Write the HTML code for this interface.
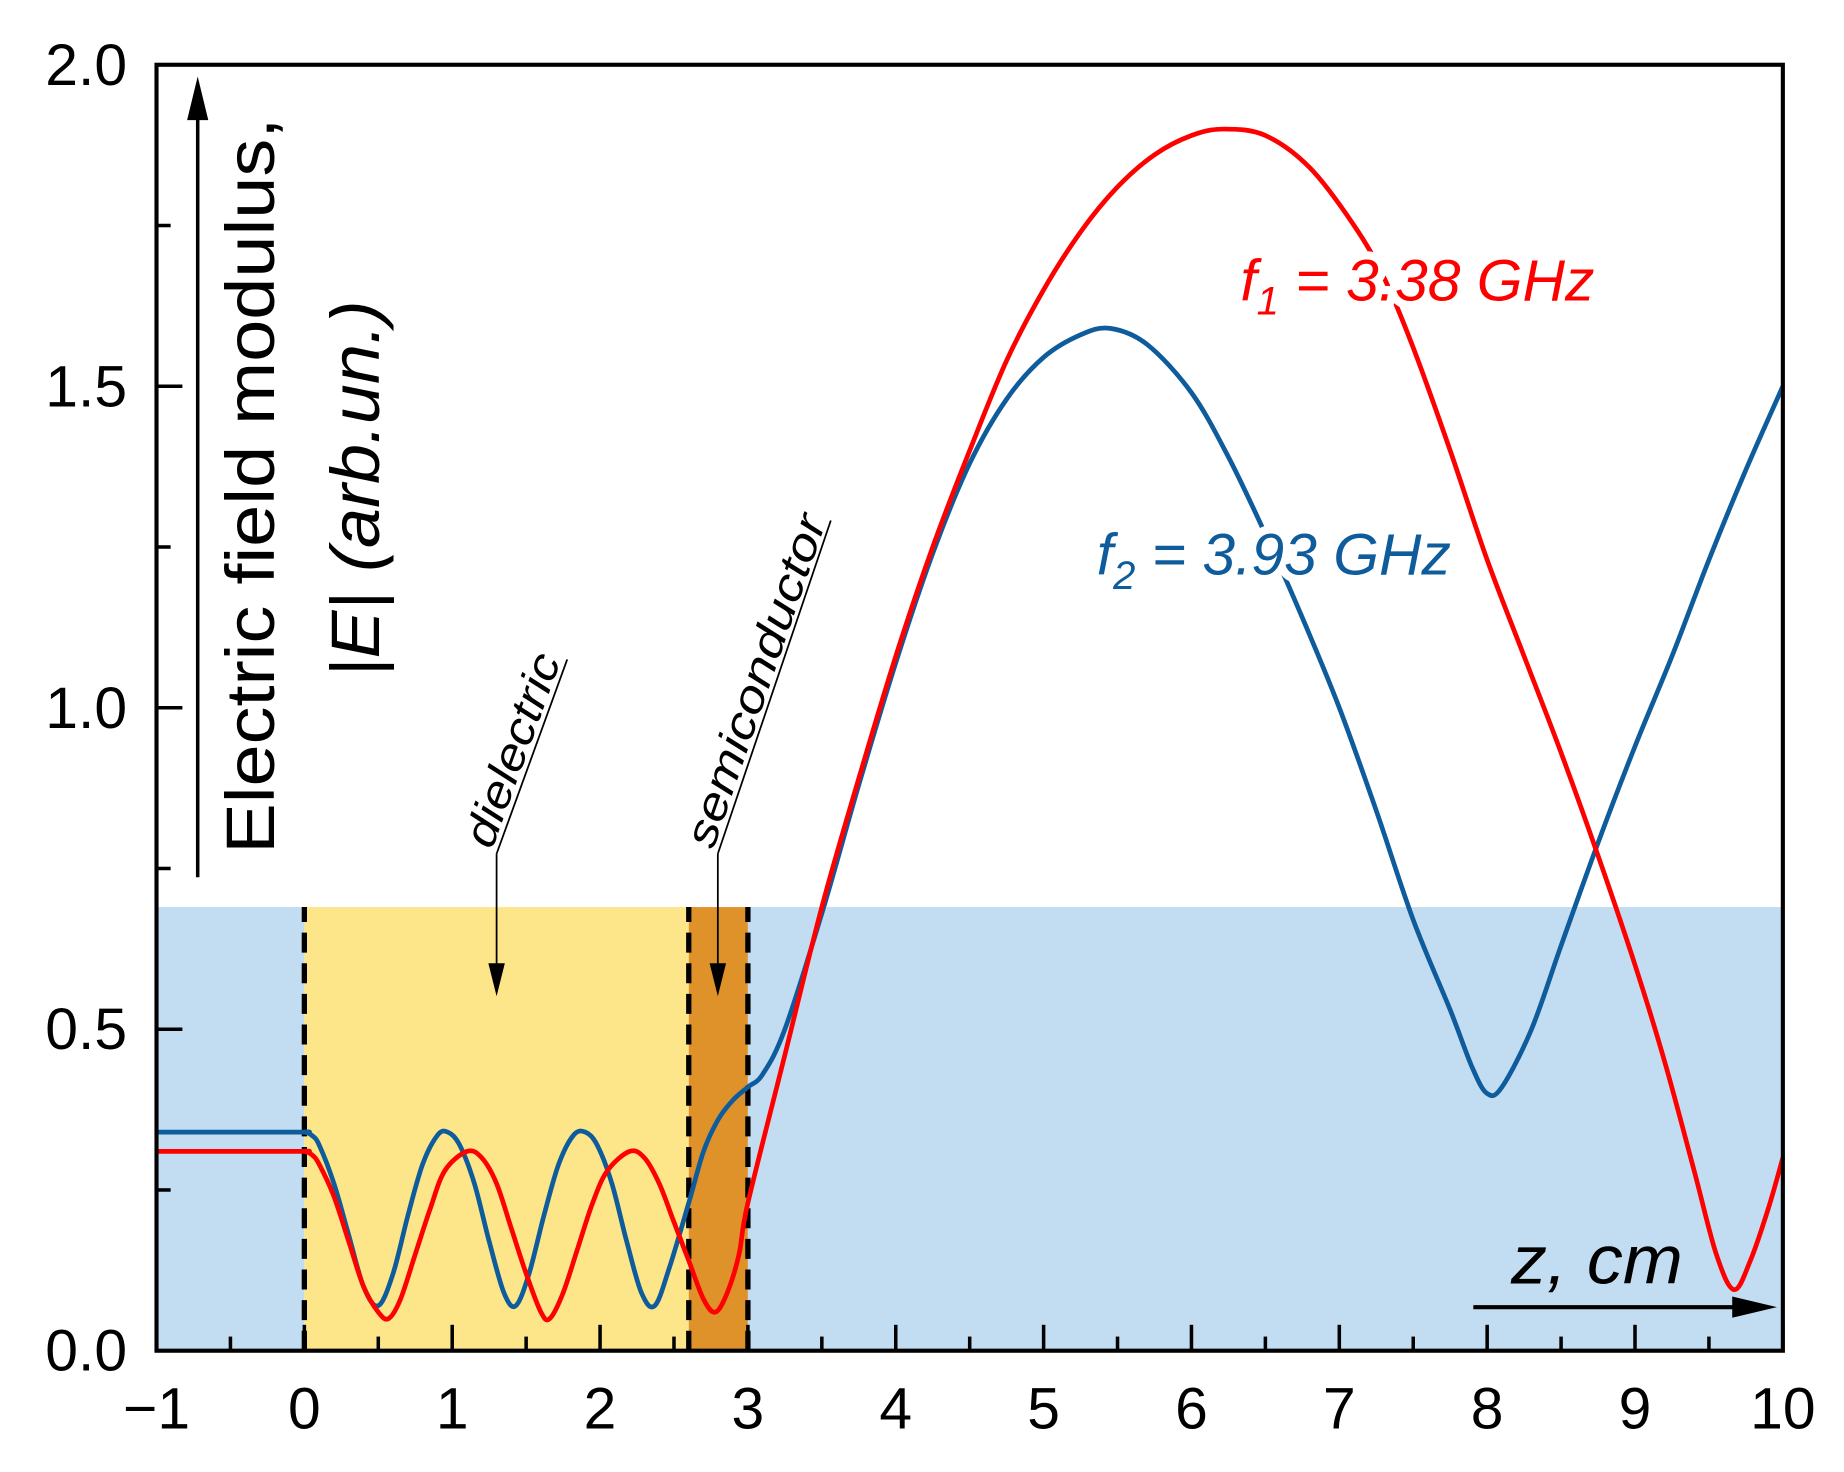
<!DOCTYPE html>
<html><head><meta charset="utf-8"><style>
html,body{margin:0;padding:0;background:#fff}
svg{display:block}
text{font-family:"Liberation Sans",sans-serif}
</style></head><body>
<svg id="chart" width="1844" height="1472" viewBox="0 0 1567 1250" preserveAspectRatio="none" xmlns="http://www.w3.org/2000/svg">
<g id="bg"></g>
<g id="curves"></g>
<g id="axes"></g>
<g id="annot"></g>
</svg>
<script>
const xTicks=[-1,0,1,2,3,4,5,6,7,8,9,10];
const xTickLabels=["\u22121","0","1","2","3","4","5","6","7","8","9","10"];
const yTicks=[0,0.5,1.0,1.5,2.0];
const yTickLabels=["0.0","0.5","1.0","1.5","2.0"];
const regions=[[-1,0,"#c2ddf1","air-region-left"],[0,2.6,"#fde68a","dielectric-region"],[2.6,3.0,"#e0922a","semiconductor-region"],[3.0,10,"#c2ddf1","air-region-right"]];
const regionTop=0.69;
const boundaries=[0,2.6,3.0];
const zBlue=[-1,-0.05,0,0.05,0.1,0.2,0.3,0.4,0.5,0.6,0.7,0.8,0.9,0.97,1.05,1.15,1.25,1.35,1.43,1.52,1.62,1.72,1.82,1.9,1.98,2.08,2.18,2.28,2.37,2.47,2.6,2.7,2.8,2.9,3.0,3.1,3.25,3.5,3.75,4,4.25,4.5,4.75,5,5.25,5.45,5.7,6,6.25,6.5,6.75,7,7.25,7.5,7.75,7.9,8,8.1,8.3,8.5,8.75,9,9.25,9.5,9.75,10];
const eBlue=[0.34,0.34,0.34,0.335,0.32,0.26,0.18,0.10,0.07,0.12,0.21,0.29,0.335,0.34,0.32,0.26,0.17,0.09,0.07,0.12,0.21,0.29,0.335,0.34,0.32,0.26,0.17,0.09,0.07,0.13,0.23,0.31,0.36,0.39,0.41,0.43,0.50,0.68,0.88,1.07,1.24,1.38,1.48,1.545,1.58,1.59,1.565,1.49,1.39,1.27,1.14,1.00,0.84,0.67,0.53,0.44,0.40,0.41,0.50,0.63,0.79,0.94,1.08,1.23,1.37,1.50];
const zRed=[-1,-0.05,0,0.05,0.1,0.2,0.3,0.4,0.5,0.57,0.65,0.75,0.85,0.95,1.1,1.2,1.3,1.4,1.5,1.6,1.66,1.75,1.85,1.95,2.05,2.2,2.3,2.4,2.5,2.6,2.7,2.78,2.86,2.94,3.0,3.25,3.5,3.75,4,4.25,4.5,4.75,5,5.25,5.5,5.75,6,6.22,6.5,6.8,7.1,7.3,7.5,7.75,8,8.25,8.5,8.75,9,9.2,9.4,9.55,9.67,9.78,9.9,10];
const eRed=[0.31,0.31,0.31,0.305,0.29,0.24,0.17,0.10,0.06,0.05,0.08,0.15,0.22,0.28,0.31,0.30,0.26,0.19,0.12,0.06,0.05,0.09,0.16,0.23,0.28,0.31,0.30,0.26,0.20,0.14,0.08,0.06,0.09,0.15,0.23,0.46,0.69,0.89,1.08,1.25,1.40,1.54,1.65,1.74,1.81,1.86,1.89,1.90,1.89,1.84,1.75,1.67,1.56,1.40,1.23,1.08,0.93,0.77,0.60,0.45,0.28,0.15,0.095,0.14,0.22,0.30];

const NS="http://www.w3.org/2000/svg";
const X=z=>133+(z+1)*125.64;
const Y=v=>1147-v*546;
function mk(tag,parent,attrs){const e=document.createElementNS(NS,tag);for(const k in attrs)e.setAttribute(k,attrs[k]);document.getElementById(parent).appendChild(e);return e;}
regions.forEach(r=>{
  const e=mk('rect','bg',{x:X(r[0]),y:Y(regionTop),width:X(r[1])-X(r[0]),height:Y(0)-Y(regionTop),fill:r[2]});
  
  
});
boundaries.forEach(b=>{
  const e=mk('line','bg',{x1:X(b),x2:X(b),y1:Y(0),y2:Y(regionTop),stroke:'#000','stroke-width':4.5,'stroke-dasharray':'17,9'});
  
  
});
function pathFrom(zs,es){
  const p=zs.map((z,i)=>[X(z),Y(es[i])]);
  let d='M'+p[0][0]+','+p[0][1];
  for(let i=0;i<p.length-1;i++){
    const p0=p[Math.max(0,i-1)],p1=p[i],p2=p[i+1],p3=p[Math.min(p.length-1,i+2)];
    const c1=[p1[0]+(p2[0]-p0[0])/6,p1[1]+(p2[1]-p0[1])/6];
    const c2=[p2[0]-(p3[0]-p1[0])/6,p2[1]-(p3[1]-p1[1])/6];
    d+=' C'+c1.join(',')+' '+c2.join(',')+' '+p2.join(',');
  }
  return d;
}
const bl=mk('path','curves',{d:pathFrom(zBlue,eBlue),fill:'none',stroke:'#0f5c9c','stroke-width':4});


const rd=mk('path','curves',{d:pathFrom(zRed,eRed),fill:'none',stroke:'#ff0000','stroke-width':4});


const fr=mk('rect','axes',{x:X(-1),y:Y(2),width:X(10)-X(-1),height:Y(0)-Y(2),fill:'none',stroke:'#000','stroke-width':3.5});


xTicks.forEach((t,i)=>{
  const l=mk('line','axes',{x1:X(t),x2:X(t),y1:Y(0),y2:Y(0)-22,stroke:'#000','stroke-width':3});
  
  
  if(i<xTicks.length-1){
    const m=mk('line','axes',{x1:X(t+0.5),x2:X(t+0.5),y1:Y(0),y2:Y(0)-12,stroke:'#000','stroke-width':3});
    
    
  }
  const tx=mk('text','axes',{x:X(t),y:1213,'font-size':50,'text-anchor':'middle',fill:'#000'});
  tx.textContent=xTickLabels[i];
  
  
});
yTicks.forEach((t,i)=>{
  const l=mk('line','axes',{x1:X(-1),x2:X(-1)+22,y1:Y(t),y2:Y(t),stroke:'#000','stroke-width':3});
  
  
  if(i<yTicks.length-1){
    const m=mk('line','axes',{x1:X(-1),x2:X(-1)+12,y1:Y(t+0.25),y2:Y(t+0.25),stroke:'#000','stroke-width':3});
    
    
  }
  const tx=mk('text','axes',{x:108,y:Y(t)+17,'font-size':50,'text-anchor':'end',fill:'#000'});
  tx.textContent=yTickLabels[i];
  
  
});
</script>
<svg style="position:absolute;left:0;top:0" width="1844" height="1472" viewBox="0 0 1567 1250" preserveAspectRatio="none" xmlns="http://www.w3.org/2000/svg">
<g>
<line x1="168" y1="745" x2="168" y2="100" stroke="#000" stroke-width="3"/>
<path d="M168,65 L159,102 L177,102 z" fill="#000"/>
</g>
<text transform="translate(233,725) rotate(-90)" font-size="58" fill="#000" textLength="625" lengthAdjust="spacingAndGlyphs">Electric field modulus,</text>
<text transform="translate(322,575) rotate(-90)" font-size="58" fill="#000" font-style="italic" textLength="320" lengthAdjust="spacingAndGlyphs">|E| (arb.un.)</text>
<g>
<line x1="1252" y1="1110" x2="1475" y2="1110" stroke="#000" stroke-width="3.5"/>
<path d="M1510,1110 L1472,1101 L1472,1119 z" fill="#000"/>
</g>
<text x="1284" y="1090" font-size="58" font-style="italic" fill="#000" textLength="146" lengthAdjust="spacingAndGlyphs">z, cm</text>
<text x="1054" y="255" font-size="50" font-style="italic" fill="#ff0000" stroke="#fff" stroke-width="14" paint-order="stroke" stroke-linejoin="round">f<tspan font-size="34" dy="12">1</tspan><tspan dy="-12"> = 3.38 GHz</tspan></text>
<text x="932" y="488" font-size="50" font-style="italic" fill="#0f5c9c" stroke="#fff" stroke-width="14" paint-order="stroke" stroke-linejoin="round">f<tspan font-size="34" dy="12">2</tspan><tspan dy="-12"> = 3.93 GHz</tspan></text>
<g>
<line x1="422" y1="725" x2="482" y2="560" stroke="#000" stroke-width="1.5"/>
<line x1="422" y1="725" x2="422" y2="820" stroke="#000" stroke-width="1.5"/>
<path d="M422,846 L415,818 L429,818 z" fill="#000"/>
<text transform="translate(418,722) rotate(-70)" font-size="38" font-style="italic" fill="#000" textLength="172" lengthAdjust="spacingAndGlyphs">dielectric</text>
</g>
<g>
<line x1="610" y1="725" x2="706" y2="442" stroke="#000" stroke-width="1.5"/>
<line x1="610" y1="725" x2="610" y2="820" stroke="#000" stroke-width="1.5"/>
<path d="M610,846 L603,818 L617,818 z" fill="#000"/>
<text transform="translate(606,722) rotate(-71)" font-size="38" font-style="italic" fill="#000" textLength="296" lengthAdjust="spacingAndGlyphs">semiconductor</text>
</g>
</svg>
</body></html>
